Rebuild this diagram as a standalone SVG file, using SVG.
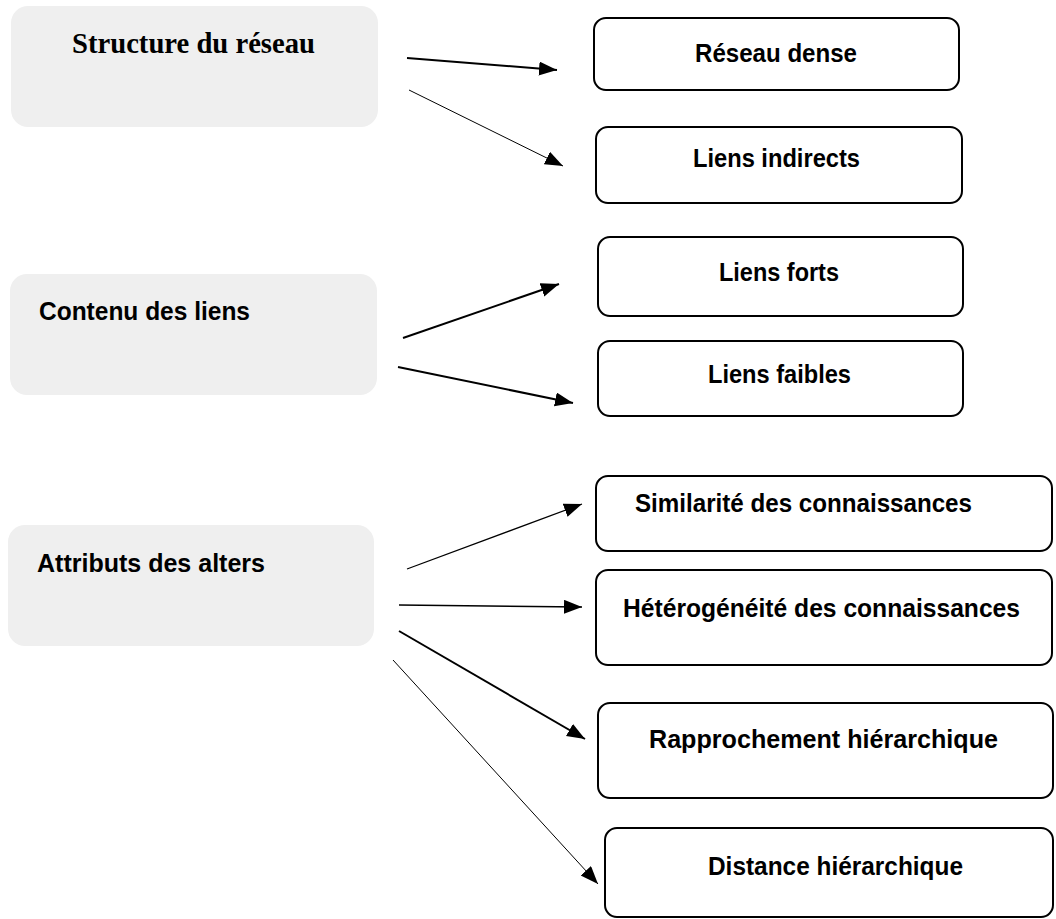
<svg xmlns="http://www.w3.org/2000/svg" width="1056" height="919" viewBox="0 0 1056 919">
<style>
.src{fill:#efefef;stroke:none}
.dst{fill:#ffffff;stroke:#000;stroke-width:2}
.t{font-family:"Liberation Sans",Arial,sans-serif;font-weight:bold;font-size:25.5px;fill:#000}
.ts{font-family:"Liberation Serif","Times New Roman",serif;font-weight:bold;font-size:29px;fill:#000}
.c{fill:none;stroke:#000}
</style>
<defs>
<marker id="ah" markerUnits="userSpaceOnUse" markerWidth="19" markerHeight="15" refX="18" refY="7" orient="auto">
<path d="M0,0 L18,7 L0,14 z" fill="#000"/>
</marker>
</defs>
<rect width="1056" height="919" fill="#fff"/>
<g id="structure">
<rect class="src" x="11" y="6" width="367" height="121" rx="17"/>
<text class="ts" x="72" y="53" textLength="243" lengthAdjust="spacingAndGlyphs">Structure du réseau</text>
</g>
<g id="contenu">
<rect class="src" x="10" y="274" width="367" height="121" rx="17"/>
<text class="t" x="39" y="320" textLength="211" lengthAdjust="spacingAndGlyphs">Contenu des liens</text>
</g>
<g id="attributs">
<rect class="src" x="8" y="525" width="366" height="121" rx="17"/>
<text class="t" x="37" y="572" textLength="228" lengthAdjust="spacingAndGlyphs">Attributs des alters</text>
</g>
<g id="reseau-dense">
<rect class="dst" x="594" y="18" width="365" height="72" rx="12"/>
<text class="t" x="695" y="62" textLength="162" lengthAdjust="spacingAndGlyphs">Réseau dense</text>
</g>
<g id="liens-indirects">
<rect class="dst" x="596" y="127" width="366" height="76" rx="12"/>
<text class="t" x="693" y="167" textLength="167" lengthAdjust="spacingAndGlyphs">Liens indirects</text>
</g>
<g id="liens-forts">
<rect class="dst" x="598" y="237" width="365" height="79" rx="12"/>
<text class="t" x="719" y="281" textLength="120" lengthAdjust="spacingAndGlyphs">Liens forts</text>
</g>
<g id="liens-faibles">
<rect class="dst" x="598" y="341" width="365" height="75" rx="12"/>
<text class="t" x="708" y="383" textLength="143" lengthAdjust="spacingAndGlyphs">Liens faibles</text>
</g>
<g id="similarite">
<rect class="dst" x="596" y="476" width="456" height="75" rx="12"/>
<text class="t" x="635" y="512" textLength="337" lengthAdjust="spacingAndGlyphs">Similarité des connaissances</text>
</g>
<g id="heterogeneite">
<rect class="dst" x="596" y="570" width="456" height="95" rx="12"/>
<text class="t" x="623" y="617" textLength="397" lengthAdjust="spacingAndGlyphs">Hétérogénéité des connaissances</text>
</g>
<g id="rapprochement">
<rect class="dst" x="598" y="703" width="455" height="95" rx="12"/>
<text class="t" x="649" y="748" textLength="349" lengthAdjust="spacingAndGlyphs">Rapprochement hiérarchique</text>
</g>
<g id="distance">
<rect class="dst" x="605" y="828" width="448" height="89" rx="12"/>
<text class="t" x="708" y="875" textLength="255" lengthAdjust="spacingAndGlyphs">Distance hiérarchique</text>
</g>
<g id="connectors">
<line class="c" x1="407" y1="58" x2="557" y2="70" stroke-width="2" marker-end="url(#ah)"/>
<line class="c" x1="409" y1="90" x2="563" y2="166" stroke-width="1" marker-end="url(#ah)"/>
<line class="c" x1="403" y1="338" x2="559" y2="284" stroke-width="2" marker-end="url(#ah)"/>
<line class="c" x1="398" y1="367" x2="573" y2="403" stroke-width="2" marker-end="url(#ah)"/>
<line class="c" x1="407" y1="569" x2="582" y2="504" stroke-width="1.2" marker-end="url(#ah)"/>
<line class="c" x1="399" y1="605" x2="582" y2="607" stroke-width="1.5" marker-end="url(#ah)"/>
<line class="c" x1="399" y1="631" x2="585" y2="739" stroke-width="2" marker-end="url(#ah)"/>
<line class="c" x1="393" y1="660" x2="598" y2="884" stroke-width="1" marker-end="url(#ah)"/>
</g>
</svg>
